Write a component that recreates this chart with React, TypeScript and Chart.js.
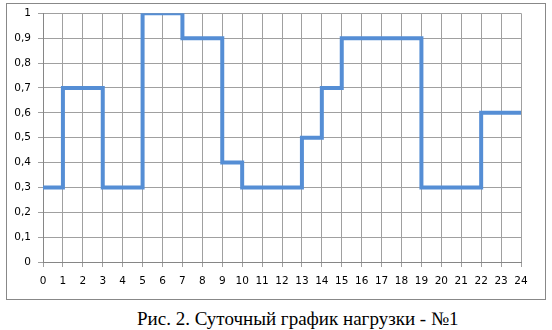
import React, { useEffect, useRef } from "react";
import { Chart, registerables } from "chart.js";

Chart.register(...registerables);

const hours = [0, 1, 2, 3, 4, 5, 6, 7, 8, 9, 10, 11, 12, 13, 14, 15, 16, 17, 18, 19, 20, 21, 22, 23, 24];
const load = [0.3, 0.7, 0.7, 0.3, 0.3, 1, 1, 0.9, 0.9, 0.4, 0.3, 0.3, 0.3, 0.5, 0.7, 0.9, 0.9, 0.9, 0.9, 0.3, 0.3, 0.3, 0.6, 0.6, 0.6];
const caption = "Рис. 2. Суточный график нагрузки - №1";

export default function App() {
  const ref = useRef<HTMLCanvasElement>(null);
  useEffect(() => {
    if (!ref.current) return;
    const tickFont = { family: "DejaVu Sans", size: 10.5 };
    const chart = new Chart(ref.current, {
      type: "line",
      data: {
        datasets: [
          {
            data: hours.map((h, i) => ({ x: h, y: load[i] })),
            borderColor: "#558ED5",
            borderWidth: 4,
            stepped: true,
            pointRadius: 0,
            borderJoinStyle: "miter",
            borderCapStyle: "butt",
            fill: false,
          },
        ],
      },
      options: {
        responsive: false,
        animation: false,
        devicePixelRatio: 1,
        layout: { padding: { left: 0, top: 11.5, right: 31, bottom: 0 } },
        plugins: { legend: { display: false }, tooltip: { enabled: false } },
        scales: {
          x: {
            type: "linear",
            min: 0,
            max: 24,
            afterFit: (s: any) => { s.height = 38; },
            ticks: {
              stepSize: 1,
              maxTicksLimit: 100,
              autoSkip: false,
              maxRotation: 0,
              padding: 8,
              color: "#000",
              font: tickFont,
            },
            grid: { color: "#a0a0a0", lineWidth: 1, tickLength: 5 },
            border: { color: "#868686", width: 1 },
          },
          y: {
            type: "linear",
            min: 0,
            max: 1,
            afterFit: (s: any) => { s.width = 43; },
            ticks: {
              stepSize: 0.1,
              maxTicksLimit: 100,
              autoSkip: false,
              padding: 7,
              color: "#000",
              font: tickFont,
              callback: (v: any) => String(Math.round(Number(v) * 10) / 10).replace(".", ","),
            },
            grid: { color: "#a0a0a0", lineWidth: 1, tickLength: 5 },
            border: { color: "#868686", width: 1 },
          },
        },
      },
    } as any);
    return () => chart.destroy();
  }, []);

  return (
    <div style={{ position: "absolute", left: 0, top: 0, width: 552, height: 330, background: "#fff" }}>
      <div
        style={{
          position: "absolute",
          left: 6,
          top: 3,
          width: 540,
          height: 297,
          boxSizing: "border-box",
          border: "1px solid #888",
        }}
      />
      <canvas ref={ref} width={552} height={300} style={{ position: "absolute", left: 0, top: 0, width: 552, height: 300 }} />
      <div
        style={{
          position: "absolute",
          left: 137,
          top: 309,
          whiteSpace: "nowrap",
          fontFamily: "'Liberation Serif', serif",
          fontSize: 19,
          lineHeight: "19px",
          color: "#000",
        }}
      >
        {caption}
      </div>
    </div>
  );
}
